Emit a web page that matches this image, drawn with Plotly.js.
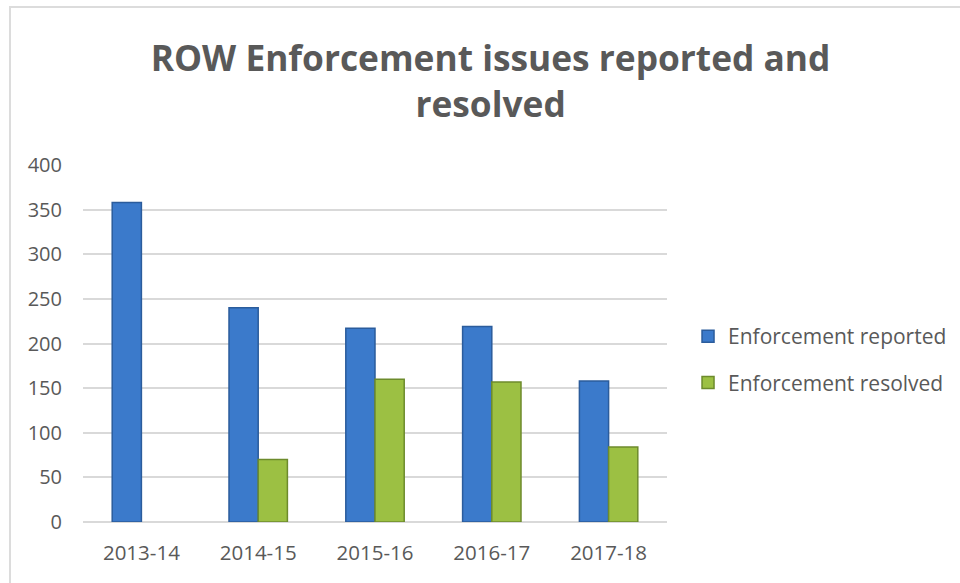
<!DOCTYPE html>
<html>
<head>
<meta charset="utf-8">
<script src="https://cdn.plot.ly/plotly-3.0.1.min.js"></script>
<style>
  body { margin: 0; background: #fff; }
  #chart { width: 960px; height: 583px; position: relative; }
  #frame { position: absolute; left: 9px; top: 6px; width: 960px; height: 600px;
           border-left: 2px solid #dcdcdc; border-top: 2px solid #dcdcdc; pointer-events: none; }
</style>
</head>
<body>
<div id="chart"></div>
<div id="frame"></div>
<script>
const years = ["2013-14", "2014-15", "2015-16", "2016-17", "2017-18"];
const reported = [358, 240, 217, 219, 158];
const resolved = [null, 70, 160, 157, 84];

const chartDiv = document.getElementById("chart");
const grey = "#595959";
const fam = "'Open Sans', Lato, sans-serif";

var traceReported = {
    x: years, y: reported, type: "bar", name: "Enforcement reported",
    legendgroup: "a",
    marker: {color: "#3b7acb", line: {color: "#2b5c9c", width: 1.5}}
};
var traceResolved = {
    x: years, y: resolved, type: "bar", name: "Enforcement resolved",
    legendgroup: "b",
    marker: {color: "#9cc043", line: {color: "#6d8b2c", width: 1.5}}
};

var layout = {
    width: 960, height: 583,
    font: {family: fam, color: grey, size: 18},
    title: {
        text: "ROW Enforcement issues reported and<br>resolved",
        font: {size: 35.3, color: grey, family: fam, weight: "bold"},
        x: 0.511, xref: "container", xanchor: "center",
        y: 0.878, yref: "container", yanchor: "top"
    },
    margin: {l: 83, r: 293, t: 165, b: 61, autoexpand: false},
    barmode: "group", bargap: 0.5, bargroupgap: 0,
    showlegend: true,
    legend: {
        x: 1.036, xanchor: "left", y: 0.455, yanchor: "middle",
        font: {size: 21, color: grey}, traceorder: "grouped", tracegroupgap: 16,
        itemwidth: 30
    },
    xaxis: {showgrid: false, showline: false, zeroline: false,
            tickfont: {size: 20.5},
            ticks: "outside", ticklen: 12, tickcolor: "rgba(0,0,0,0)"},
    yaxis: {range: [0, 400], dtick: 50, gridcolor: "#d9d9d9", gridwidth: 1.5,
            zeroline: true, zerolinecolor: "#d9d9d9", zerolinewidth: 1.5,
            tickfont: {size: 20},
            showline: false, ticks: "outside", ticklen: 16, tickcolor: "rgba(0,0,0,0)"},
    paper_bgcolor: "#ffffff", plot_bgcolor: "#ffffff"
};

Plotly.newPlot(chartDiv, [traceReported, traceResolved], layout, {displayModeBar: false});
</script>
</body>
</html>
